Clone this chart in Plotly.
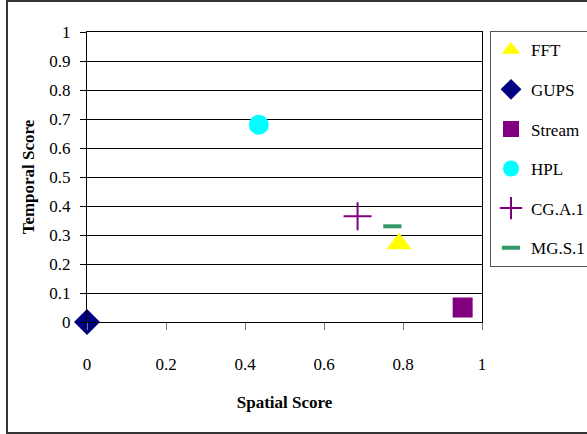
import plotly.graph_objects as go

names = ["FFT", "GUPS", "Stream", "HPL", "CG.A.1", "MG.S.1"]
spatial = [0.79, 0.0, 0.951, 0.435, 0.685, 0.773]
temporal = [0.27, 0.0, 0.05, 0.68, 0.365, 0.33]
colors = ["#ffff00", "#000080", "#800080", "#00ffff", "#800080", "#339966"]
symbols = ["triangle-up", "diamond", "square", "circle", "cross-thin-open", "line-ew-open"]
sizes = [22, 20, 20, 20, 20, 13]
line_widths = [0, 0, 0, 0, 2, 4]

x_ticks = [0, 0.2, 0.4, 0.6, 0.8, 1]
y_ticks = [0, 0.1, 0.2, 0.3, 0.4, 0.5, 0.6, 0.7, 0.8, 0.9, 1]

FONT = "Liberation Serif"

fig = go.Figure()
for i, n in enumerate(names):
    fig.add_trace(go.Scatter(
        x=[spatial[i]], y=[temporal[i]], mode="markers", name=n,
        legendgroup=n,
        marker=dict(symbol=symbols[i], size=sizes[i], color=colors[i],
                    line=dict(width=line_widths[i], color=colors[i])),
        cliponaxis=False,
    ))

fig.update_layout(
    width=587, height=434,
    margin=dict(l=87, r=105, t=32, b=112, autoexpand=False),
    plot_bgcolor="white", paper_bgcolor="white",
    font=dict(family=FONT, color="black", size=17),
    showlegend=True,
    legend=dict(x=1.0203, y=1.003, xanchor="left", yanchor="top",
                bordercolor="#555555", borderwidth=1,
                font=dict(family=FONT, size=17),
                traceorder="grouped", tracegroupgap=14.5,
                itemwidth=30, maxheight=400),
    xaxis=dict(range=[0, 1], tickvals=x_ticks, ticktext=[str(v) for v in x_ticks],
               showgrid=False, zeroline=False,
               showline=True, linecolor="black", linewidth=1, mirror=True,
               ticks="outside", ticklen=7, tickcolor="#777777",
               ticklabelstandoff=20,
               tickfont=dict(family=FONT, size=17),
               title=dict(text="<b>Spatial Score</b>", font=dict(family=FONT, size=17), standoff=22)),
    yaxis=dict(range=[0, 1], tickvals=y_ticks, ticktext=[str(v) for v in y_ticks],
               showgrid=True, gridcolor="black", gridwidth=1, zeroline=False,
               showline=True, linecolor="black", linewidth=1, mirror=True,
               ticks="outside", ticklen=6, tickcolor="black",
               ticklabelstandoff=6,
               tickfont=dict(family=FONT, size=17),
               title=dict(text="<b>Temporal Score</b>", font=dict(family=FONT, size=17), standoff=10)),
    shapes=[dict(type="rect", xref="paper", yref="paper",
                 x0=-0.2025, x1=1.3, y0=-0.383, y1=1.107,
                 line=dict(color="#333333", width=2), layer="below")],
)

fig.write_html("out.html")
